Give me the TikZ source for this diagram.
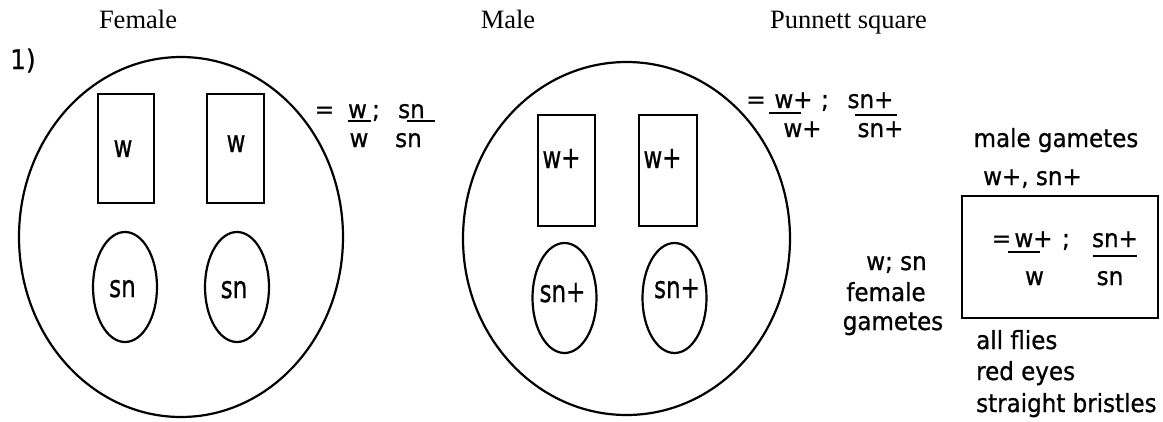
\documentclass[tikz,border=0pt]{standalone}
\usepackage{fontspec}
\usepackage{graphicx}
\setmainfont{Liberation Serif}
\newfontfamily\dv[FakeStretch=0.92,FakeBold=0.8]{DejaVu Sans}
\usetikzlibrary{shapes.geometric}
\tikzset{
  cell/.style={draw, ellipse, line width=2.2pt, inner sep=0pt, outer sep=0pt},
  chrom/.style={draw, rectangle, line width=2.4pt, inner sep=0pt, outer sep=0pt},
  ovalchrom/.style={draw, ellipse, line width=2.2pt, inner sep=0pt, outer sep=0pt, minimum width=64pt, minimum height=110pt},
  pbox/.style={draw, rectangle, line width=2.4pt, inner sep=0pt, outer sep=0pt},
  head/.style={font=\fontsize{26.5}{30}\selectfont, anchor=base, inner sep=0pt},
  txt/.style={font=\dv\fontsize{25}{29}\selectfont, anchor=base, inner sep=0pt},
  frac/.style={font=\dv\fontsize{25}{29}\selectfont, anchor=base, inner sep=0pt},
  bar/.style={line width=2pt},
}
\newcommand{\tallt}[1]{\scalebox{1}[1.22]{#1}}
\begin{document}
\begin{tikzpicture}[x=1pt,y=-1pt]
\useasboundingbox (0,0) rectangle (1163,421);
% headings
\node[head] (hfem) at (138,28) {Female};
\node[head] (hmale) at (508,28) {Male};
\node[head, anchor=base west] (hpun) at (770,28) {Punnett square};
\node[txt, anchor=base west, font=\dv\fontsize{27}{30}\selectfont] (num) at (10,69) {1)};
% female cell
\node[cell, minimum width=324pt, minimum height=360pt] (fcell) at (181,237) {};
\node[chrom, minimum width=56pt, minimum height=109pt] (fr1) at (126,148.5) {};
\node[chrom, minimum width=57pt, minimum height=109pt] (fr2) at (235.5,148.5) {};
\node[txt] (fr1t) at (123,157) {\tallt{w}};
\node[txt] (fr2t) at (236,152) {\tallt{w}};
\node[ovalchrom] (fe1) at (125,287) {};
\node[ovalchrom] (fe2) at (237,287) {};
\node[txt] (fe1t) at (122.5,297) {\tallt{sn}};
\node[txt] (fe2t) at (234,298) {\tallt{sn}};
% female genotype
\node[frac] (feq) at (324.5,118) {=};
\node[frac] (fn1) at (357.5,118) {w};
\node[frac] (fsc) at (376,118) {;};
\node[frac] (fn2) at (411.5,118) {sn};
\node[frac] (fd1) at (359,147) {w};
\node[frac] (fd2) at (408.5,147) {sn};
\draw[bar] (348,121) -- (371,121);
\draw[bar] (407,121) -- (435,121);
% male cell
\node[cell, minimum width=327pt, minimum height=353pt] (mcell) at (626.5,238.5) {};
\node[chrom, minimum width=57pt, minimum height=111pt] (mr1) at (566.5,170.5) {};
\node[chrom, minimum width=58pt, minimum height=111pt] (mr2) at (668,170.5) {};
\node[txt] (mr1t) at (561.5,168) {\tallt{w+}};
\node[txt] (mr2t) at (662.5,168) {\tallt{w+}};
\node[ovalchrom] (me1) at (564.5,298) {};
\node[ovalchrom] (me2) at (674.5,298) {};
\node[txt] (me1t) at (562.5,302) {\tallt{sn+}};
\node[txt] (me2t) at (677,298) {\tallt{sn+}};
% male genotype
\node[frac] (meq) at (756,108) {=};
\node[frac] (mn1) at (793.5,108) {w+};
\node[frac] (msc) at (825,108) {;};
\node[frac] (mn2) at (870.5,108) {sn+};
\node[frac] (md1) at (802.5,137) {w+};
\node[frac] (md2) at (880.5,137) {sn+};
\draw[bar] (769,113) -- (801,113);
\draw[bar] (855,115) -- (897,115);
% Punnett square
\node[txt] (mg) at (1056,147) {male gametes};
\node[txt] (mgg) at (1032.5,185) {w+, sn+};
\node[pbox, minimum width=196pt, minimum height=122pt] (pbx) at (1060,257) {};
\node[frac] (peq) at (1001.5,247) {=};
\node[frac] (pn1) at (1033.5,247) {w+};
\node[frac] (psc) at (1066,247) {;};
\node[frac] (pn2) at (1115,247) {sn+};
\node[frac] (pd1) at (1034.5,285) {w};
\node[frac] (pd2) at (1110,285) {sn};
\draw[bar] (1008,252) -- (1040,252);
\draw[bar] (1093,256) -- (1137,256);
\node[txt] (fgg) at (896.5,270) {w; sn};
\node[txt] (fg1) at (886,301) {female};
\node[txt] (fg2) at (893,330) {gametes};
\node[txt, anchor=base west] (r1) at (976,349) {all flies};
\node[txt, anchor=base west] (r2) at (976,380) {red eyes};
\node[txt, anchor=base west] (r3) at (976,412) {straight bristles};
\end{tikzpicture}
\end{document}
